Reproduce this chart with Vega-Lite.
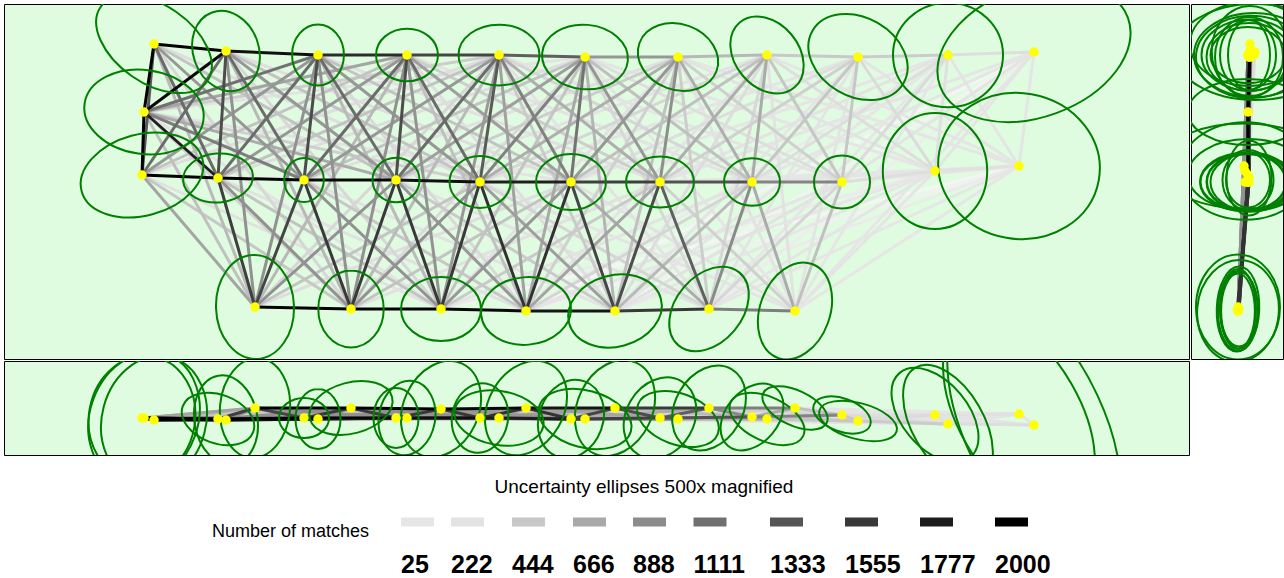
{
  "$schema": "https://vega.github.io/schema/vega-lite/v6.json",
  "padding": {"left": 3, "top": 3, "right": 0, "bottom": 0},
  "background": "white",
  "config": {"font": "Liberation Sans, Arial, sans-serif"},
  "datasets": {
    "cams": [
      {"id": "T0", "x": 1.50, "y": 0.40, "z": 0.59, "td": 1.30, "tr": 0.6, "ta": 35, "sd": 1.30, "sr": 0.8, "sa": 105, "ed": 1.20, "er": 0.7, "ea": 0},
      {"id": "T1", "x": 2.22, "y": 0.47, "z": 0.59, "td": 0.82, "tr": 0.8, "ta": 70, "sd": 0.90, "sr": 0.7, "sa": 80, "ed": 0.90, "er": 0.85, "ea": 90},
      {"id": "T2", "x": 3.14, "y": 0.51, "z": 0.58, "td": 0.61, "tr": 0.85, "ta": 90, "sd": 0.60, "sr": 0.75, "sa": 90, "ed": 0.70, "er": 0.6, "ea": 90},
      {"id": "T3", "x": 4.03, "y": 0.51, "z": 0.57, "td": 0.62, "tr": 0.85, "ta": 0, "sd": 0.75, "sr": 0.75, "sa": 100, "ed": 0.75, "er": 0.75, "ea": 0},
      {"id": "T4", "x": 4.95, "y": 0.51, "z": 0.57, "td": 0.81, "tr": 0.75, "ta": 0, "sd": 0.90, "sr": 0.6, "sa": 10, "ed": 0.70, "er": 0.8, "ea": 90},
      {"id": "T5", "x": 5.81, "y": 0.53, "z": 0.58, "td": 0.86, "tr": 0.75, "ta": 5, "sd": 0.95, "sr": 0.6, "sa": 15, "ed": 0.85, "er": 0.8, "ea": 0},
      {"id": "T6", "x": 6.74, "y": 0.53, "z": 0.58, "td": 0.82, "tr": 0.8, "ta": 20, "sd": 0.85, "sr": 0.6, "sa": 20, "ed": 0.80, "er": 0.85, "ea": 90},
      {"id": "T7", "x": 7.63, "y": 0.51, "z": 0.58, "td": 0.85, "tr": 0.75, "ta": 50, "sd": 0.80, "sr": 0.55, "sa": 25, "ed": 0.95, "er": 0.75, "ea": 0},
      {"id": "T8", "x": 8.54, "y": 0.53, "z": 0.60, "td": 1.05, "tr": 0.75, "ta": 30, "sd": 0.80, "sr": 0.45, "sa": 15, "ed": 1.10, "er": 0.75, "ea": 0},
      {"id": "T9", "x": 9.44, "y": 0.51, "z": 0.63, "td": 1.10, "tr": 0.95, "ta": 0, "sd": 1.30, "sr": 0.55, "sa": 60, "ed": 1.20, "er": 0.7, "ea": 0},
      {"id": "T10", "x": 10.30, "y": 0.48, "z": 0.64, "td": 2.00, "tr": 0.65, "ta": -20, "sd": 2.80, "sr": 0.5, "sa": 65, "ed": 1.60, "er": 0.6, "ea": 0},
      {"id": "L", "x": 1.40, "y": 1.08, "z": 0.57, "td": 1.20, "tr": 0.7, "ta": 8, "sd": 1.35, "sr": 0.8, "sa": 110, "ed": 1.20, "er": 0.55, "ea": 0},
      {"id": "M0", "x": 1.38, "y": 1.71, "z": 0.57, "td": 1.25, "tr": 0.65, "ta": -15, "sd": 1.25, "sr": 0.85, "sa": 100, "ed": 1.20, "er": 0.6, "ea": 0},
      {"id": "M1", "x": 2.14, "y": 1.74, "z": 0.58, "td": 0.70, "tr": 0.7, "ta": -5, "sd": 0.75, "sr": 0.65, "sa": 20, "ed": 0.75, "er": 0.6, "ea": 90},
      {"id": "M2", "x": 3.00, "y": 1.76, "z": 0.57, "td": 0.44, "tr": 0.9, "ta": 90, "sd": 0.50, "sr": 0.8, "sa": 0, "ed": 0.55, "er": 0.8, "ea": 90},
      {"id": "M3", "x": 3.92, "y": 1.76, "z": 0.57, "td": 0.47, "tr": 0.95, "ta": 0, "sd": 0.60, "sr": 0.75, "sa": 90, "ed": 0.60, "er": 0.85, "ea": 90},
      {"id": "M4", "x": 4.76, "y": 1.78, "z": 0.57, "td": 0.61, "tr": 0.85, "ta": 0, "sd": 0.70, "sr": 0.8, "sa": 100, "ed": 0.75, "er": 0.75, "ea": 0},
      {"id": "M5", "x": 5.67, "y": 1.78, "z": 0.58, "td": 0.70, "tr": 0.8, "ta": 0, "sd": 0.80, "sr": 0.8, "sa": 110, "ed": 0.85, "er": 0.7, "ea": 0},
      {"id": "M6", "x": 6.56, "y": 1.78, "z": 0.57, "td": 0.68, "tr": 0.75, "ta": 0, "sd": 0.85, "sr": 0.8, "sa": 120, "ed": 0.95, "er": 0.6, "ea": 0},
      {"id": "M7", "x": 7.48, "y": 1.78, "z": 0.56, "td": 0.56, "tr": 0.85, "ta": 0, "sd": 0.75, "sr": 0.7, "sa": 130, "ed": 0.80, "er": 0.7, "ea": 0},
      {"id": "M8", "x": 8.38, "y": 1.78, "z": 0.54, "td": 0.56, "tr": 0.95, "ta": 0, "sd": 0.60, "sr": 0.55, "sa": 20, "ed": 0.90, "er": 0.65, "ea": 0},
      {"id": "M9", "x": 9.31, "y": 1.67, "z": 0.54, "td": 1.16, "tr": 0.9, "ta": 90, "sd": 1.10, "sr": 0.6, "sa": 50, "ed": 1.30, "er": 0.75, "ea": 0},
      {"id": "M10", "x": 10.15, "y": 1.62, "z": 0.53, "td": 1.62, "tr": 0.9, "ta": 10, "sd": 2.20, "sr": 0.55, "sa": 60, "ed": 1.70, "er": 0.5, "ea": 0},
      {"id": "B0", "x": 2.51, "y": 3.03, "z": 0.47, "td": 1.04, "tr": 0.75, "ta": 88, "sd": 1.00, "sr": 0.7, "sa": 95, "ed": 1.05, "er": 0.8, "ea": 90},
      {"id": "B1", "x": 3.47, "y": 3.05, "z": 0.47, "td": 0.77, "tr": 0.85, "ta": 90, "sd": 0.85, "sr": 0.6, "sa": -15, "ed": 0.80, "er": 0.45, "ea": 90},
      {"id": "B2", "x": 4.37, "y": 3.05, "z": 0.48, "td": 0.80, "tr": 0.8, "ta": 0, "sd": 1.00, "sr": 0.75, "sa": 115, "ed": 0.75, "er": 0.5, "ea": 90},
      {"id": "B3", "x": 5.22, "y": 3.07, "z": 0.47, "td": 0.90, "tr": 0.75, "ta": -5, "sd": 1.00, "sr": 0.75, "sa": 120, "ed": 0.75, "er": 0.45, "ea": 90},
      {"id": "B4", "x": 6.11, "y": 3.07, "z": 0.47, "td": 0.95, "tr": 0.75, "ta": -15, "sd": 1.00, "sr": 0.75, "sa": 115, "ed": 0.80, "er": 0.5, "ea": 90},
      {"id": "B5", "x": 7.05, "y": 3.05, "z": 0.47, "td": 0.95, "tr": 0.7, "ta": -50, "sd": 0.90, "sr": 0.75, "sa": 120, "ed": 0.85, "er": 0.5, "ea": 92},
      {"id": "B6", "x": 7.91, "y": 3.07, "z": 0.47, "td": 1.00, "tr": 0.7, "ta": -70, "sd": 0.70, "sr": 0.5, "sa": 25, "ed": 1.02, "er": 0.8, "ea": 95}
    ],
    "edges": [
      {"a": "T0", "b": "T1", "n": 2000}, {"a": "T1", "b": "T2", "n": 1900}, {"a": "T2", "b": "T3", "n": 1650}, {"a": "T3", "b": "T4", "n": 1450}, {"a": "T4", "b": "T5", "n": 1250},
      {"a": "T5", "b": "T6", "n": 800}, {"a": "T6", "b": "T7", "n": 560}, {"a": "T7", "b": "T8", "n": 440}, {"a": "T8", "b": "T9", "n": 420}, {"a": "T9", "b": "T10", "n": 260},
      {"a": "M0", "b": "M1", "n": 2000}, {"a": "M1", "b": "M2", "n": 2000}, {"a": "M2", "b": "M3", "n": 1950}, {"a": "M3", "b": "M4", "n": 1900}, {"a": "M4", "b": "M5", "n": 1750},
      {"a": "M5", "b": "M6", "n": 1500}, {"a": "M6", "b": "M7", "n": 1350}, {"a": "M7", "b": "M8", "n": 950}, {"a": "M8", "b": "M9", "n": 260}, {"a": "M9", "b": "M10", "n": 240},
      {"a": "B0", "b": "B1", "n": 2000}, {"a": "B1", "b": "B2", "n": 2000}, {"a": "B2", "b": "B3", "n": 1950}, {"a": "B3", "b": "B4", "n": 1850}, {"a": "B4", "b": "B5", "n": 1550}, {"a": "B5", "b": "B6", "n": 1000},
      {"a": "L", "b": "T0", "n": 2000}, {"a": "L", "b": "M0", "n": 2000}, {"a": "L", "b": "T1", "n": 1950}, {"a": "L", "b": "M1", "n": 1750}, {"a": "L", "b": "T2", "n": 1100},
      {"a": "L", "b": "M2", "n": 1000}, {"a": "L", "b": "T3", "n": 700}, {"a": "L", "b": "M3", "n": 650}, {"a": "L", "b": "B0", "n": 500}, {"a": "L", "b": "B1", "n": 350},
      {"a": "L", "b": "T4", "n": 400}, {"a": "L", "b": "M4", "n": 380}, {"a": "L", "b": "B2", "n": 220}, {"a": "L", "b": "T5", "n": 200}, {"a": "L", "b": "M5", "n": 200},
      {"a": "T0", "b": "M0", "n": 1300}, {"a": "T1", "b": "M1", "n": 1400}, {"a": "T2", "b": "M2", "n": 1400}, {"a": "T3", "b": "M3", "n": 1400}, {"a": "T4", "b": "M4", "n": 1290},
      {"a": "T5", "b": "M5", "n": 1090}, {"a": "T6", "b": "M6", "n": 870}, {"a": "T7", "b": "M7", "n": 660}, {"a": "T8", "b": "M8", "n": 450}, {"a": "T9", "b": "M9", "n": 250}, {"a": "T10", "b": "M10", "n": 110},
      {"a": "T0", "b": "M1", "n": 1150}, {"a": "T1", "b": "M0", "n": 1150}, {"a": "T1", "b": "M2", "n": 1150}, {"a": "T2", "b": "M1", "n": 1150}, {"a": "T2", "b": "M3", "n": 1150},
      {"a": "T3", "b": "M2", "n": 1150}, {"a": "T3", "b": "M4", "n": 1150}, {"a": "T4", "b": "M3", "n": 1150}, {"a": "T4", "b": "M5", "n": 980}, {"a": "T5", "b": "M4", "n": 980},
      {"a": "T5", "b": "M6", "n": 800}, {"a": "T6", "b": "M5", "n": 800}, {"a": "T6", "b": "M7", "n": 630}, {"a": "T7", "b": "M6", "n": 630}, {"a": "T7", "b": "M8", "n": 460},
      {"a": "T8", "b": "M7", "n": 460}, {"a": "T8", "b": "M9", "n": 290}, {"a": "T9", "b": "M8", "n": 290}, {"a": "T9", "b": "M10", "n": 140}, {"a": "T10", "b": "M9", "n": 140},
      {"a": "T0", "b": "M2", "n": 800}, {"a": "T2", "b": "M0", "n": 800}, {"a": "T1", "b": "M3", "n": 800}, {"a": "T3", "b": "M1", "n": 800}, {"a": "T2", "b": "M4", "n": 800},
      {"a": "T4", "b": "M2", "n": 800}, {"a": "T3", "b": "M5", "n": 740}, {"a": "T5", "b": "M3", "n": 740}, {"a": "T4", "b": "M6", "n": 630}, {"a": "T6", "b": "M4", "n": 630},
      {"a": "T5", "b": "M7", "n": 500}, {"a": "T7", "b": "M5", "n": 500}, {"a": "T6", "b": "M8", "n": 380}, {"a": "T8", "b": "M6", "n": 380}, {"a": "T7", "b": "M9", "n": 260},
      {"a": "T9", "b": "M7", "n": 260}, {"a": "T8", "b": "M10", "n": 150}, {"a": "T10", "b": "M8", "n": 150},
      {"a": "T0", "b": "M3", "n": 480}, {"a": "T3", "b": "M0", "n": 480}, {"a": "T1", "b": "M4", "n": 480}, {"a": "T4", "b": "M1", "n": 480}, {"a": "T2", "b": "M5", "n": 480},
      {"a": "T5", "b": "M2", "n": 480}, {"a": "T3", "b": "M6", "n": 400}, {"a": "T6", "b": "M3", "n": 400}, {"a": "T4", "b": "M7", "n": 330}, {"a": "T7", "b": "M4", "n": 330},
      {"a": "T5", "b": "M8", "n": 260}, {"a": "T8", "b": "M5", "n": 260}, {"a": "T6", "b": "M9", "n": 190}, {"a": "T9", "b": "M6", "n": 190}, {"a": "T7", "b": "M10", "n": 120}, {"a": "T10", "b": "M7", "n": 120},
      {"a": "T0", "b": "M4", "n": 260}, {"a": "T4", "b": "M0", "n": 260}, {"a": "T1", "b": "M5", "n": 260}, {"a": "T5", "b": "M1", "n": 260}, {"a": "T2", "b": "M6", "n": 240},
      {"a": "T6", "b": "M2", "n": 240}, {"a": "T3", "b": "M7", "n": 200}, {"a": "T7", "b": "M3", "n": 200}, {"a": "T4", "b": "M8", "n": 160}, {"a": "T8", "b": "M4", "n": 160},
      {"a": "T5", "b": "M9", "n": 120}, {"a": "T9", "b": "M5", "n": 120}, {"a": "T6", "b": "M10", "n": 80}, {"a": "T10", "b": "M6", "n": 80},
      {"a": "B0", "b": "M1", "n": 1500}, {"a": "B0", "b": "M2", "n": 1450}, {"a": "B1", "b": "M2", "n": 1550}, {"a": "B1", "b": "M3", "n": 1550}, {"a": "B2", "b": "M3", "n": 1550},
      {"a": "B2", "b": "M4", "n": 1550}, {"a": "B3", "b": "M4", "n": 1600}, {"a": "B3", "b": "M5", "n": 1600}, {"a": "B4", "b": "M5", "n": 1450}, {"a": "B4", "b": "M6", "n": 1400},
      {"a": "B5", "b": "M6", "n": 1250}, {"a": "B5", "b": "M7", "n": 900}, {"a": "B6", "b": "M7", "n": 650}, {"a": "B6", "b": "M8", "n": 500},
      {"a": "B0", "b": "M0", "n": 700}, {"a": "B0", "b": "M3", "n": 850}, {"a": "B1", "b": "M1", "n": 850}, {"a": "B1", "b": "M4", "n": 850}, {"a": "B2", "b": "M2", "n": 850},
      {"a": "B2", "b": "M5", "n": 800}, {"a": "B3", "b": "M3", "n": 800}, {"a": "B3", "b": "M6", "n": 700}, {"a": "B4", "b": "M4", "n": 750}, {"a": "B4", "b": "M7", "n": 550},
      {"a": "B5", "b": "M5", "n": 650}, {"a": "B5", "b": "M8", "n": 330}, {"a": "B6", "b": "M6", "n": 380}, {"a": "B6", "b": "M9", "n": 120},
      {"a": "B0", "b": "M4", "n": 480}, {"a": "B1", "b": "M0", "n": 450}, {"a": "B1", "b": "M5", "n": 480}, {"a": "B2", "b": "M1", "n": 480}, {"a": "B2", "b": "M6", "n": 430},
      {"a": "B3", "b": "M2", "n": 450}, {"a": "B3", "b": "M7", "n": 340}, {"a": "B4", "b": "M3", "n": 430}, {"a": "B4", "b": "M8", "n": 230}, {"a": "B5", "b": "M4", "n": 340},
      {"a": "B5", "b": "M9", "n": 80}, {"a": "B6", "b": "M5", "n": 230}, {"a": "B6", "b": "M10", "n": 40},
      {"a": "B0", "b": "M5", "n": 260}, {"a": "B1", "b": "M6", "n": 240}, {"a": "B2", "b": "M0", "n": 240}, {"a": "B2", "b": "M7", "n": 200}, {"a": "B3", "b": "M1", "n": 240},
      {"a": "B3", "b": "M8", "n": 140}, {"a": "B4", "b": "M2", "n": 220}, {"a": "B4", "b": "M9", "n": 50}, {"a": "B5", "b": "M3", "n": 190}, {"a": "B5", "b": "M10", "n": 30}, {"a": "B6", "b": "M4", "n": 140},
      {"a": "B0", "b": "T1", "n": 850}, {"a": "B0", "b": "T2", "n": 850}, {"a": "B1", "b": "T2", "n": 850}, {"a": "B1", "b": "T3", "n": 850}, {"a": "B2", "b": "T3", "n": 830},
      {"a": "B2", "b": "T4", "n": 790}, {"a": "B3", "b": "T4", "n": 730}, {"a": "B3", "b": "T5", "n": 670}, {"a": "B4", "b": "T5", "n": 580}, {"a": "B4", "b": "T6", "n": 500},
      {"a": "B5", "b": "T6", "n": 400}, {"a": "B5", "b": "T7", "n": 320}, {"a": "B6", "b": "T7", "n": 230}, {"a": "B6", "b": "T8", "n": 160},
      {"a": "B0", "b": "T0", "n": 550}, {"a": "B0", "b": "T3", "n": 560}, {"a": "B1", "b": "T1", "n": 560}, {"a": "B1", "b": "T4", "n": 540}, {"a": "B2", "b": "T2", "n": 540},
      {"a": "B2", "b": "T5", "n": 470}, {"a": "B3", "b": "T3", "n": 500}, {"a": "B3", "b": "T6", "n": 380}, {"a": "B4", "b": "T4", "n": 430}, {"a": "B4", "b": "T7", "n": 270},
      {"a": "B5", "b": "T5", "n": 310}, {"a": "B5", "b": "T8", "n": 130}, {"a": "B6", "b": "T6", "n": 190}, {"a": "B6", "b": "T9", "n": 50},
      {"a": "B0", "b": "T4", "n": 320}, {"a": "B1", "b": "T0", "n": 320}, {"a": "B1", "b": "T5", "n": 300}, {"a": "B2", "b": "T1", "n": 320}, {"a": "B2", "b": "T6", "n": 230},
      {"a": "B3", "b": "T2", "n": 300}, {"a": "B3", "b": "T7", "n": 170}, {"a": "B4", "b": "T3", "n": 260}, {"a": "B4", "b": "T8", "n": 100}, {"a": "B5", "b": "T4", "n": 200},
      {"a": "B5", "b": "T9", "n": 40}, {"a": "B6", "b": "T5", "n": 120}, {"a": "B6", "b": "T10", "n": 25},
      {"a": "T10", "b": "B5", "n": 18}, {"a": "T10", "b": "B4", "n": 12}, {"a": "M10", "b": "B4", "n": 20}, {"a": "M10", "b": "B3", "n": 14}, {"a": "M10", "b": "M8", "n": 60},
      {"a": "M10", "b": "M7", "n": 40}, {"a": "M10", "b": "M6", "n": 25}, {"a": "T9", "b": "B4", "n": 30}, {"a": "M9", "b": "B3", "n": 30}, {"a": "M9", "b": "M7", "n": 80},
      {"a": "M9", "b": "M6", "n": 50}, {"a": "M10", "b": "B2", "n": 10}, {"a": "T10", "b": "B3", "n": 10}, {"a": "M9", "b": "B2", "n": 20}, {"a": "T9", "b": "B3", "n": 20}
    ],
    "legend": [
      {"n": 25}, {"n": 222}, {"n": 444}, {"n": 666}, {"n": 888}, {"n": 1111}, {"n": 1333}, {"n": 1555}, {"n": 1777}, {"n": 2000}
    ]
  },
  "vconcat": [
    {
      "hconcat": [
        {
          "width": 1185, "height": 355,
          "view": {"fill": "#e0fce0", "stroke": "#000000", "strokeWidth": 1},
          "layer": [
            {
              "data": {"name": "edges"},
              "transform": [
                {"lookup": "a", "from": {"data": {"name": "cams"}, "key": "id", "fields": ["x", "y", "z"]}, "as": ["ax", "ay", "az"]},
                {"lookup": "b", "from": {"data": {"name": "cams"}, "key": "id", "fields": ["x", "y", "z"]}, "as": ["bx", "by", "bz"]}
              ],
              "mark": {"type": "rule", "strokeWidth": 3, "clip": true},
              "encoding": {
                "x": {"field": "ax", "type": "quantitative", "scale": {"domain": [0, 11.85], "nice": false, "zero": false}, "axis": null},
                "y": {"field": "ay", "type": "quantitative", "scale": {"domain": [0, 3.55], "nice": false, "zero": false, "reverse": true}, "axis": null},
                "x2": {"field": "bx"},
                "y2": {"field": "by"},
                "color": {"field": "n", "type": "quantitative", "legend": null, "scale": {"domain": [0, 25, 222, 444, 666, 888, 1111, 1333, 1555, 1777, 2000], "range": ["#ffffff", "#e6e6e6", "#e3e3e3", "#c8c8c8", "#a9a9a9", "#8c8c8c", "#707070", "#555555", "#383838", "#1c1c1c", "#000000"]}},
                "order": {"field": "n", "type": "quantitative"}
              }
            },
            {
              "data": {"name": "cams"},
              "mark": {"type": "point", "filled": false, "strokeWidth": 2, "opacity": 1, "color": "#008000", "clip": true},
              "encoding": {
                "x": {"field": "x", "type": "quantitative"},
                "y": {"field": "y", "type": "quantitative"},
                "size": {"field": "td", "type": "quantitative", "legend": null, "scale": {"type": "pow", "exponent": 2, "domain": [0, 3], "range": [0, 90000]}},
                "shape": {"field": "tr", "type": "ordinal", "legend": null, "scale": {"domain": [0.45, 0.5, 0.55, 0.6, 0.65, 0.7, 0.75, 0.8, 0.85, 0.9, 0.95, 1], "range": [
                  "M -1 0 A 1 0.45 0 1 0 1 0 A 1 0.45 0 1 0 -1 0 Z", "M -1 0 A 1 0.5 0 1 0 1 0 A 1 0.5 0 1 0 -1 0 Z", "M -1 0 A 1 0.55 0 1 0 1 0 A 1 0.55 0 1 0 -1 0 Z", "M -1 0 A 1 0.6 0 1 0 1 0 A 1 0.6 0 1 0 -1 0 Z",
                  "M -1 0 A 1 0.65 0 1 0 1 0 A 1 0.65 0 1 0 -1 0 Z", "M -1 0 A 1 0.7 0 1 0 1 0 A 1 0.7 0 1 0 -1 0 Z", "M -1 0 A 1 0.75 0 1 0 1 0 A 1 0.75 0 1 0 -1 0 Z", "M -1 0 A 1 0.8 0 1 0 1 0 A 1 0.8 0 1 0 -1 0 Z",
                  "M -1 0 A 1 0.85 0 1 0 1 0 A 1 0.85 0 1 0 -1 0 Z", "M -1 0 A 1 0.9 0 1 0 1 0 A 1 0.9 0 1 0 -1 0 Z", "M -1 0 A 1 0.95 0 1 0 1 0 A 1 0.95 0 1 0 -1 0 Z", "M -1 0 A 1 1 0 1 0 1 0 A 1 1 0 1 0 -1 0 Z"]}},
                "angle": {"field": "ta", "type": "quantitative", "scale": null}
              }
            },
            {
              "data": {"name": "cams"},
              "mark": {"type": "point", "filled": true, "shape": "circle", "size": 90, "opacity": 1, "color": "#ffff00", "clip": true},
              "encoding": {
                "x": {"field": "x", "type": "quantitative"},
                "y": {"field": "y", "type": "quantitative"}
              }
            }
          ]
        },
        {
          "width": 92, "height": 355,
          "view": {"fill": "#e0fce0", "stroke": "#000000", "strokeWidth": 1},
          "layer": [
            {
              "data": {"name": "edges"},
              "transform": [
                {"lookup": "a", "from": {"data": {"name": "cams"}, "key": "id", "fields": ["x", "y", "z"]}, "as": ["ax", "ay", "az"]},
                {"lookup": "b", "from": {"data": {"name": "cams"}, "key": "id", "fields": ["x", "y", "z"]}, "as": ["bx", "by", "bz"]}
              ],
              "mark": {"type": "rule", "strokeWidth": 3, "clip": true},
              "encoding": {
                "x": {"field": "az", "type": "quantitative", "scale": {"domain": [0, 0.92], "nice": false, "zero": false}, "axis": null},
                "y": {"field": "ay", "type": "quantitative", "scale": {"domain": [0, 3.55], "nice": false, "zero": false, "reverse": true}, "axis": null},
                "x2": {"field": "bz"},
                "y2": {"field": "by"},
                "color": {"field": "n", "type": "quantitative", "legend": null, "scale": {"domain": [0, 25, 222, 444, 666, 888, 1111, 1333, 1555, 1777, 2000], "range": ["#ffffff", "#e6e6e6", "#e3e3e3", "#c8c8c8", "#a9a9a9", "#8c8c8c", "#707070", "#555555", "#383838", "#1c1c1c", "#000000"]}},
                "order": {"field": "n", "type": "quantitative"}
              }
            },
            {
              "data": {"name": "cams"},
              "mark": {"type": "point", "filled": false, "strokeWidth": 2, "opacity": 1, "color": "#008000", "clip": true},
              "encoding": {
                "x": {"field": "z", "type": "quantitative"},
                "y": {"field": "y", "type": "quantitative"},
                "size": {"field": "ed", "type": "quantitative", "legend": null, "scale": {"type": "pow", "exponent": 2, "domain": [0, 3], "range": [0, 90000]}},
                "shape": {"field": "er", "type": "ordinal", "legend": null, "scale": {"domain": [0.45, 0.5, 0.55, 0.6, 0.65, 0.7, 0.75, 0.8, 0.85, 0.9, 0.95, 1], "range": [
                  "M -1 0 A 1 0.45 0 1 0 1 0 A 1 0.45 0 1 0 -1 0 Z", "M -1 0 A 1 0.5 0 1 0 1 0 A 1 0.5 0 1 0 -1 0 Z", "M -1 0 A 1 0.55 0 1 0 1 0 A 1 0.55 0 1 0 -1 0 Z", "M -1 0 A 1 0.6 0 1 0 1 0 A 1 0.6 0 1 0 -1 0 Z",
                  "M -1 0 A 1 0.65 0 1 0 1 0 A 1 0.65 0 1 0 -1 0 Z", "M -1 0 A 1 0.7 0 1 0 1 0 A 1 0.7 0 1 0 -1 0 Z", "M -1 0 A 1 0.75 0 1 0 1 0 A 1 0.75 0 1 0 -1 0 Z", "M -1 0 A 1 0.8 0 1 0 1 0 A 1 0.8 0 1 0 -1 0 Z",
                  "M -1 0 A 1 0.85 0 1 0 1 0 A 1 0.85 0 1 0 -1 0 Z", "M -1 0 A 1 0.9 0 1 0 1 0 A 1 0.9 0 1 0 -1 0 Z", "M -1 0 A 1 0.95 0 1 0 1 0 A 1 0.95 0 1 0 -1 0 Z", "M -1 0 A 1 1 0 1 0 1 0 A 1 1 0 1 0 -1 0 Z"]}},
                "angle": {"field": "ea", "type": "quantitative", "scale": null}
              }
            },
            {
              "data": {"name": "cams"},
              "mark": {"type": "point", "filled": true, "shape": "circle", "size": 90, "opacity": 1, "color": "#ffff00", "clip": true},
              "encoding": {
                "x": {"field": "z", "type": "quantitative"},
                "y": {"field": "y", "type": "quantitative"}
              }
            }
          ]
        }
      ],
      "spacing": 0,
      "resolve": {"scale": {"x": "independent", "y": "independent", "color": "independent", "size": "independent", "shape": "independent"}}
    },
    {
      "width": 1185, "height": 94,
      "view": {"fill": "#e0fce0", "stroke": "#000000", "strokeWidth": 1},
      "layer": [
        {
          "data": {"name": "edges"},
          "transform": [
            {"lookup": "a", "from": {"data": {"name": "cams"}, "key": "id", "fields": ["x", "y", "z"]}, "as": ["ax", "ay", "az"]},
            {"lookup": "b", "from": {"data": {"name": "cams"}, "key": "id", "fields": ["x", "y", "z"]}, "as": ["bx", "by", "bz"]}
          ],
          "mark": {"type": "rule", "strokeWidth": 3, "clip": true},
          "encoding": {
            "x": {"field": "ax", "type": "quantitative", "scale": {"domain": [0, 11.85], "nice": false, "zero": false}, "axis": null},
            "y": {"field": "az", "type": "quantitative", "scale": {"domain": [0, 0.94], "nice": false, "zero": false, "reverse": true}, "axis": null},
            "x2": {"field": "bx"},
            "y2": {"field": "bz"},
            "color": {"field": "n", "type": "quantitative", "legend": null, "scale": {"domain": [0, 25, 222, 444, 666, 888, 1111, 1333, 1555, 1777, 2000], "range": ["#ffffff", "#e6e6e6", "#e3e3e3", "#c8c8c8", "#a9a9a9", "#8c8c8c", "#707070", "#555555", "#383838", "#1c1c1c", "#000000"]}},
            "order": {"field": "n", "type": "quantitative"}
          }
        },
        {
          "data": {"name": "cams"},
          "mark": {"type": "point", "filled": false, "strokeWidth": 2, "opacity": 1, "color": "#008000", "clip": true},
          "encoding": {
            "x": {"field": "x", "type": "quantitative"},
            "y": {"field": "z", "type": "quantitative"},
            "size": {"field": "sd", "type": "quantitative", "legend": null, "scale": {"type": "pow", "exponent": 2, "domain": [0, 3], "range": [0, 90000]}},
            "shape": {"field": "sr", "type": "ordinal", "legend": null, "scale": {"domain": [0.45, 0.5, 0.55, 0.6, 0.65, 0.7, 0.75, 0.8, 0.85, 0.9, 0.95, 1], "range": [
              "M -1 0 A 1 0.45 0 1 0 1 0 A 1 0.45 0 1 0 -1 0 Z", "M -1 0 A 1 0.5 0 1 0 1 0 A 1 0.5 0 1 0 -1 0 Z", "M -1 0 A 1 0.55 0 1 0 1 0 A 1 0.55 0 1 0 -1 0 Z", "M -1 0 A 1 0.6 0 1 0 1 0 A 1 0.6 0 1 0 -1 0 Z",
              "M -1 0 A 1 0.65 0 1 0 1 0 A 1 0.65 0 1 0 -1 0 Z", "M -1 0 A 1 0.7 0 1 0 1 0 A 1 0.7 0 1 0 -1 0 Z", "M -1 0 A 1 0.75 0 1 0 1 0 A 1 0.75 0 1 0 -1 0 Z", "M -1 0 A 1 0.8 0 1 0 1 0 A 1 0.8 0 1 0 -1 0 Z",
              "M -1 0 A 1 0.85 0 1 0 1 0 A 1 0.85 0 1 0 -1 0 Z", "M -1 0 A 1 0.9 0 1 0 1 0 A 1 0.9 0 1 0 -1 0 Z", "M -1 0 A 1 0.95 0 1 0 1 0 A 1 0.95 0 1 0 -1 0 Z", "M -1 0 A 1 1 0 1 0 1 0 A 1 1 0 1 0 -1 0 Z"]}},
            "angle": {"field": "sa", "type": "quantitative", "scale": null}
          }
        },
        {
          "data": {"name": "cams"},
          "mark": {"type": "point", "filled": true, "shape": "circle", "size": 90, "opacity": 1, "color": "#ffff00", "clip": true},
          "encoding": {
            "x": {"field": "x", "type": "quantitative"},
            "y": {"field": "z", "type": "quantitative"}
          }
        }
      ]
    },
    {
      "width": 1185, "height": 122,
      "view": {"stroke": null, "fill": null},
      "layer": [
        {
          "data": {"name": "legend"},
          "mark": {"type": "point", "shape": "M -1 -0.27 L 1 -0.27 L 1 0.27 L -1 0.27 Z", "size": 1089, "filled": true, "opacity": 1},
          "encoding": {
            "x": {"field": "n", "type": "quantitative", "axis": null, "scale": {"domain": [25, 222, 444, 666, 888, 1111, 1333, 1555, 1777, 2000], "range": [413.5, 463.5, 524.5, 585.5, 645.5, 706, 782.5, 857.5, 932.5, 1007.5], "zero": false, "nice": false}},
            "y": {"value": 66},
            "color": {"field": "n", "type": "quantitative", "legend": null, "scale": {"domain": [0, 25, 222, 444, 666, 888, 1111, 1333, 1555, 1777, 2000], "range": ["#ffffff", "#e6e6e6", "#e3e3e3", "#c8c8c8", "#a9a9a9", "#8c8c8c", "#707070", "#555555", "#383838", "#1c1c1c", "#000000"]}}
          }
        },
        {
          "data": {"name": "legend"},
          "mark": {"type": "text", "align": "left", "dx": -16.5, "baseline": "alphabetic", "fontSize": 25, "fontWeight": "bold", "font": "Liberation Sans, Arial", "color": "#000000"},
          "encoding": {
            "x": {"field": "n", "type": "quantitative"},
            "y": {"value": 117},
            "text": {"field": "n", "type": "nominal"}
          }
        },
        {
          "data": {"values": [{"label": "Uncertainty ellipses 500x magnified"}]},
          "mark": {"type": "text", "align": "center", "baseline": "middle", "fontSize": 19, "font": "Liberation Sans, Arial", "color": "#000000", "x": 640, "y": 31},
          "encoding": {"text": {"field": "label", "type": "nominal"}}
        },
        {
          "data": {"values": [{"label": "Number of matches"}]},
          "mark": {"type": "text", "align": "right", "baseline": "middle", "fontSize": 18, "font": "Liberation Sans, Arial", "color": "#000000", "x": 365, "y": 76},
          "encoding": {"text": {"field": "label", "type": "nominal"}}
        }
      ]
    }
  ],
  "spacing": 0,
  "resolve": {"scale": {"x": "independent", "y": "independent", "color": "independent", "size": "independent", "shape": "independent"}}
}
